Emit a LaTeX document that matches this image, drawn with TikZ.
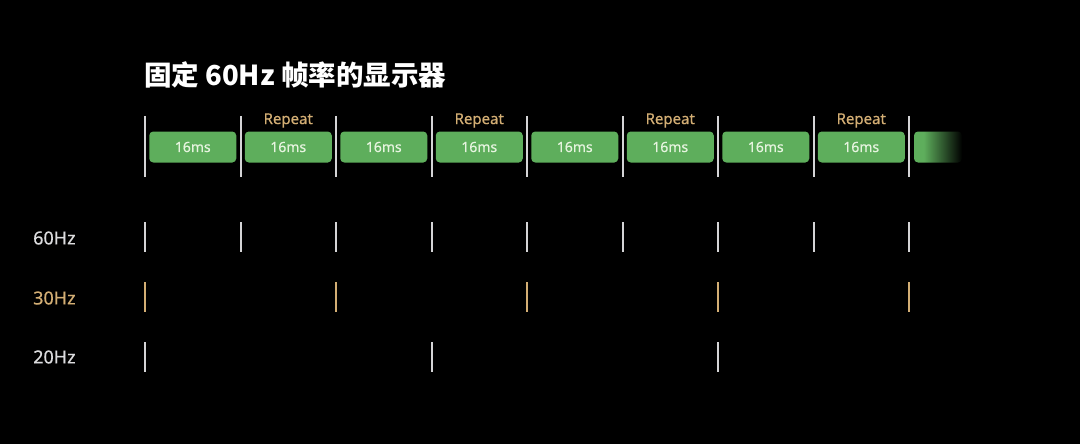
\documentclass[tikz,border=0pt]{standalone}
\usepackage{fontspec}
\setmainfont{Noto Sans}[FakeBold=0.5]
\newfontfamily\cjk{Noto Sans CJK SC}
\definecolor{bgc}{HTML}{000000}
\definecolor{boxg}{HTML}{5EAE5C}
\definecolor{boxtxt}{HTML}{E6F4DF}
\definecolor{tickc}{HTML}{D4D4D6}
\definecolor{tan}{HTML}{D3AE74}
\definecolor{lab}{HTML}{DCDCDE}
\pgfdeclarehorizontalshading{fadebox}{100bp}{color(0bp)=(boxg); color(35bp)=(boxg); color(75bp)=(bgc); color(100bp)=(bgc)}
\tikzset{
  frame/.style={minimum width=87pt, minimum height=31pt, rounded corners=4pt, fill=boxg, text=boxtxt, font=\fontsize{14}{14}\selectfont, inner sep=0pt},
  rep/.style={text=tan, font=\fontsize{15}{15}\selectfont, inner sep=0pt},
  tk/.style={line width=2pt, tickc},
  tktan/.style={line width=2pt, tan},
  hz/.style={anchor=west, font=\fontsize{18}{18}\selectfont, inner sep=0pt},
}
\begin{document}
\begin{tikzpicture}[x=1pt,y=-1pt]
\fill[bgc] (0,0) rectangle (1080,444);
\useasboundingbox (0,0) rectangle (1080,444);
\node[anchor=base west, text=white, font=\cjk\bfseries\fontsize{27.5}{27.5}\selectfont, inner sep=0pt] (title) at (144,86) {固定 60Hz 帧率的显示器};
% top ticks and frames
\foreach \i in {0,...,8} {
  \draw[tk] ({145+95.5*\i},116) -- ({145+95.5*\i},177);
}
\foreach \i in {0,...,7} {
  \node[frame] (f\i) at ({192.75+95.5*\i},147) {16ms};
}
\foreach \i in {1,3,5,7} {
  \node[rep] (r\i) at ({192.75+95.5*\i},120.5) {Repeat};
}
\shade[shading=fadebox, rounded corners=4pt] (914,131.5) rectangle (962,162.5);
% rate labels
\node[hz, text=lab] (l60) at (33,238) {60Hz};
\node[hz, text=tan] (l30) at (33,298) {30Hz};
\node[hz, text=lab] (l20) at (33,357) {20Hz};
\foreach \i in {0,...,8} {
  \draw[tk] ({145+95.5*\i},222) -- ({145+95.5*\i},252);
}
\foreach \i in {0,2,4,6,8} {
  \draw[tktan] ({145+95.5*\i},282) -- ({145+95.5*\i},312);
}
\foreach \i in {0,3,6} {
  \draw[tk] ({145+95.5*\i},342) -- ({145+95.5*\i},372);
}
\end{tikzpicture}
\end{document}
